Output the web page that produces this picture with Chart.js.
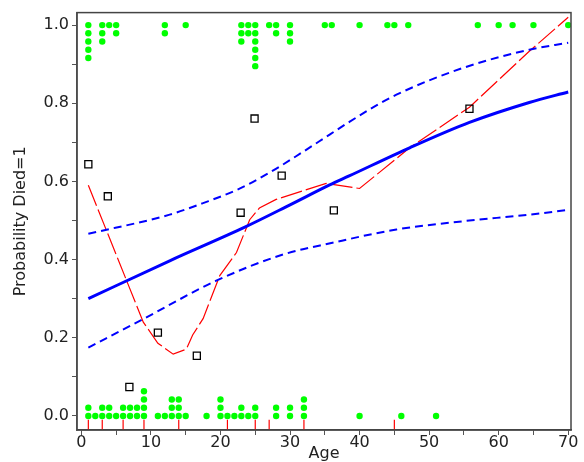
<!DOCTYPE html>
<html>
<head>
<meta charset="utf-8">
<script src="https://cdn.jsdelivr.net/npm/chart.js@4/dist/chart.umd.min.js"></script>
<style>
  html, body { margin: 0; padding: 0; background: #fff; }
  #wrap { width: 584px; height: 462px; }
</style>
</head>
<body>
<div id="wrap"><canvas id="chart-age"></canvas></div>
<script>
// observed outcomes by age (one entry per patient)
const agesDied = [1, 1, 1, 1, 1, 3, 3, 3, 4, 5, 5, 12, 12, 15, 23, 23, 23, 24, 24,
    25, 25, 25, 25, 25, 25, 27, 28, 28, 30, 30, 30, 35, 36, 40, 44, 45, 47, 57, 60, 62, 65, 70];
const agesSurvived = [1, 1, 2, 3, 3, 4, 4, 5, 6, 6, 7, 7, 8, 8, 9, 9, 9, 9, 11, 12,
    13, 13, 13, 14, 14, 14, 15, 18, 20, 20, 20, 21, 22, 23, 23, 24, 25, 25, 28, 28,
    30, 30, 32, 32, 32, 40, 46, 51];

// grouped observed proportions
const groupAge = [1.0, 3.8, 6.9, 11.0, 16.6, 22.9, 24.9, 28.8, 36.3, 55.8];
const groupProp = [0.644, 0.562, 0.074, 0.213, 0.154, 0.520, 0.761, 0.615, 0.526, 0.786];

// fitted logistic curve
const fitAge = [1, 12.7, 23.5, 30, 35.7, 38.5, 47.2, 55.8, 64.4, 70];
const fitProb = [0.300, 0.397, 0.483, 0.540, 0.591, 0.614, 0.686, 0.751, 0.802, 0.829];

// confidence limits
const upperAge = [1, 12.7, 17.4, 22.3, 27, 31.8, 35.7, 38.5, 42, 45.3, 54.8, 64.4, 70];
const upperProb = [0.466, 0.515, 0.544, 0.578, 0.622, 0.675, 0.720, 0.752, 0.790, 0.822, 0.890, 0.937, 0.955];
const lowerAge = [1, 8.6, 19.4, 29, 36.1, 45.3, 54.8, 64.4, 70];
const lowerProb = [0.175, 0.245, 0.346, 0.413, 0.443, 0.477, 0.498, 0.515, 0.527];

// nonparametric smooth
const smoothAge = [1, 8.9, 11, 13.2, 15.1, 16, 17.5, 19.9, 22.3, 24.2, 25.6, 28, 35.2, 40, 47.2, 55.8, 64.4, 70];
const smoothProb = [0.59, 0.24, 0.186, 0.158, 0.171, 0.207, 0.249, 0.359, 0.418, 0.502, 0.532, 0.554, 0.595, 0.582, 0.686, 0.79, 0.933, 1.02];

// knot locations (rug)
const rugAges = [1, 3, 6, 9, 14, 21, 25, 27, 32, 45];

const xTicks = [0, 5, 10, 15, 20, 25, 30, 35, 40, 45, 50, 55, 60, 65, 70];
const yTicks = [0, 0.1, 0.2, 0.3, 0.4, 0.5, 0.6, 0.7, 0.8, 0.9, 1.0];

const STACK_STEP = 0.021;
const RUG_LOW = -0.036, RUG_HIGH = -0.01;

function stackPoints(ages, base, dir) {
    const seen = {};
    return ages.map(a => {
        seen[a] = (seen[a] || 0);
        const pt = { x: a, y: base + dir * seen[a] * STACK_STEP };
        seen[a] += 1;
        return pt;
    });
}

const zip = (xs, ys) => xs.map((x, i) => ({ x, y: ys[i] }));

const rugData = [];
rugAges.forEach(a => {
    rugData.push({ x: a, y: RUG_LOW }, { x: a, y: RUG_HIGH }, { x: a, y: null });
});

const frame = {
    id: 'frame',
    afterDraw(chart) {
        const { ctx, chartArea: a } = chart;
        ctx.save();
        ctx.strokeStyle = '#444';
        ctx.lineWidth = 1.5;
        ctx.strokeRect(a.left, a.top, a.right - a.left, a.bottom - a.top);
        ctx.restore();
    }
};

const axisFont = { family: 'DejaVu Sans', size: 16 };
const gridOpts = { drawOnChartArea: false, drawTicks: true, tickLength: 5, tickColor: '#555' };

new Chart(document.getElementById('chart-age'), {
    type: 'scatter',
    data: {
        datasets: [
            {
                data: zip(groupAge, groupProp),
                pointStyle: 'rect',
                pointRadius: 5,
                borderColor: '#000',
                backgroundColor: 'rgba(255,255,255,0)',
                borderWidth: 1.3
            },
            {
                data: stackPoints(agesDied, 1, -1),
                pointRadius: 3.2,
                pointBorderWidth: 0,
                backgroundColor: '#00ff00',
                borderColor: '#00ff00'
            },
            {
                data: stackPoints(agesSurvived, 0, 1),
                pointRadius: 3.2,
                pointBorderWidth: 0,
                backgroundColor: '#00ff00',
                borderColor: '#00ff00'
            },
            {
                data: zip(fitAge, fitProb),
                showLine: true,
                pointRadius: 0,
                borderColor: '#0000ff',
                borderWidth: 3,
                cubicInterpolationMode: 'monotone'
            },
            {
                data: zip(upperAge, upperProb),
                showLine: true,
                pointRadius: 0,
                borderColor: '#0000ff',
                borderWidth: 2,
                borderDash: [8, 5],
                cubicInterpolationMode: 'monotone'
            },
            {
                data: zip(lowerAge, lowerProb),
                showLine: true,
                pointRadius: 0,
                borderColor: '#0000ff',
                borderWidth: 2,
                borderDash: [8, 5],
                cubicInterpolationMode: 'monotone'
            },
            {
                data: zip(smoothAge, smoothProb),
                showLine: true,
                pointRadius: 0,
                borderColor: '#ff0000',
                borderWidth: 1.2,
                borderDash: [22, 4],
                tension: 0
            },
            {
                data: rugData,
                showLine: true,
                spanGaps: false,
                pointRadius: 0,
                borderColor: '#ff0000',
                borderWidth: 1.2
            }
        ]
    },
    options: {
        responsive: true,
        maintainAspectRatio: false,
        animation: false,
        layout: { padding: { top: 8, right: 13, left: 0, bottom: 0 } },
        plugins: {
            legend: { display: false },
            tooltip: { enabled: false }
        },
        scales: {
            x: {
                type: 'linear',
                min: -0.63,
                max: 70.4,
                afterBuildTicks: s => { s.ticks = xTicks.map(v => ({ value: v })); },
                afterFit: s => { s.height = 32; },
                ticks: {
                    color: '#222',
                    font: axisFont,
                    padding: -2,
                    maxRotation: 0,
                    autoSkip: false,
                    callback: (v, i) => (i % 2 === 0 ? String(v) : '')
                },
                grid: gridOpts,
                border: { color: '#444', width: 1.5 },
                title: {
                    display: true,
                    text: 'Age',
                    color: '#222',
                    font: { family: 'DejaVu Sans', size: 16, lineHeight: 1 },
                    padding: { top: 0, bottom: 0 }
                }
            },
            y: {
                type: 'linear',
                min: -0.036,
                max: 1.032,
                afterBuildTicks: s => { s.ticks = yTicks.map(v => ({ value: v })); },
                afterFit: s => { s.width = 77; },
                ticks: {
                    color: '#222',
                    font: axisFont,
                    padding: 3,
                    autoSkip: false,
                    callback: (v, i) => (i % 2 === 0 ? v.toFixed(1) : '')
                },
                grid: gridOpts,
                border: { color: '#666', width: 1.5 },
                title: {
                    display: true,
                    text: 'Probability Died=1',
                    color: '#222',
                    font: { family: 'DejaVu Sans', size: 16, lineHeight: 1 },
                    padding: { top: 13, bottom: 0 }
                }
            }
        }
    },
    plugins: [frame]
});
</script>
</body>
</html>
